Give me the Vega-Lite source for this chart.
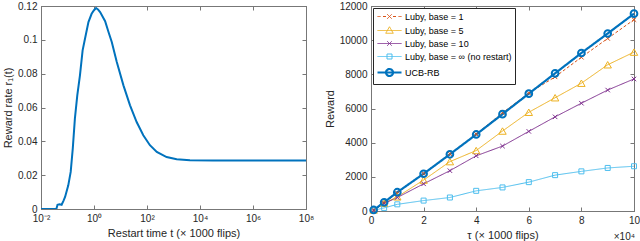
{
  "$schema": "https://vega.github.io/schema/vega-lite/v6.json",
  "padding": {"left": 2, "top": 0, "right": 0, "bottom": 0},
  "bounds": "flush",
  "spacing": 65,
  "config": {
    "view": {"stroke": "#777", "strokeWidth": 1},
    "font": "Liberation Sans",
    "axis": {
      "labelFont": "Liberation Sans", "titleFont": "Liberation Sans",
      "labelFontSize": 10, "titleFontSize": 11,
      "labelColor": "#262626", "titleColor": "#262626", "titleFontWeight": "normal",
      "domainColor": "#777", "tickColor": "#777", "tickSize": -4, "grid": false,
      "labelPadding": 8, "labelFlush": false, "labelOverlap": false
    },
    "legend": {"labelFont": "Liberation Sans", "labelFontSize": 9, "labelColor": "#000"}
  },
  "datasets": {
    "rate": [
      {"t": 0.01, "r": 0}, {"t": 0.025, "r": 0}, {"t": 0.038, "r": 0},
      {"t": 0.042, "r": 0.0025}, {"t": 0.05, "r": 0.0028}, {"t": 0.06, "r": 0.0025},
      {"t": 0.071, "r": 0.005}, {"t": 0.081, "r": 0.0071}, {"t": 0.107, "r": 0.014},
      {"t": 0.132, "r": 0.0219}, {"t": 0.158, "r": 0.0357}, {"t": 0.19, "r": 0.0534},
      {"t": 0.234, "r": 0.0672}, {"t": 0.295, "r": 0.079}, {"t": 0.372, "r": 0.0938},
      {"t": 0.457, "r": 0.1006}, {"t": 0.617, "r": 0.1105}, {"t": 0.813, "r": 0.1154},
      {"t": 1, "r": 0.1175}, {"t": 1.2, "r": 0.1188}, {"t": 1.41, "r": 0.118},
      {"t": 1.7, "r": 0.1164}, {"t": 2.63, "r": 0.111}, {"t": 3.55, "r": 0.1045},
      {"t": 4.68, "r": 0.0987}, {"t": 7.24, "r": 0.0869}, {"t": 12.9, "r": 0.0731},
      {"t": 22.9, "r": 0.0613}, {"t": 40.7, "r": 0.0514}, {"t": 72.4, "r": 0.0436},
      {"t": 129, "r": 0.0377}, {"t": 234, "r": 0.0337}, {"t": 550, "r": 0.0307},
      {"t": 1318, "r": 0.0294}, {"t": 4169, "r": 0.0288}, {"t": 31623, "r": 0.0287},
      {"t": 1000000, "r": 0.0287}, {"t": 100000000, "r": 0.0287}
    ],
    "reward": [
      {"s": "Luby, base = 1", "x": 1000, "y": 60}, {"s": "Luby, base = 1", "x": 5000, "y": 480},
      {"s": "Luby, base = 1", "x": 10000, "y": 1050}, {"s": "Luby, base = 1", "x": 20000, "y": 2200},
      {"s": "Luby, base = 1", "x": 30000, "y": 3350}, {"s": "Luby, base = 1", "x": 40000, "y": 4500},
      {"s": "Luby, base = 1", "x": 50000, "y": 5750}, {"s": "Luby, base = 1", "x": 60000, "y": 6900},
      {"s": "Luby, base = 1", "x": 70000, "y": 7850}, {"s": "Luby, base = 1", "x": 80000, "y": 9000},
      {"s": "Luby, base = 1", "x": 90000, "y": 10100}, {"s": "Luby, base = 1", "x": 100000, "y": 11200},
      {"s": "Luby, base = 5", "x": 1000, "y": 60}, {"s": "Luby, base = 5", "x": 5000, "y": 450},
      {"s": "Luby, base = 5", "x": 10000, "y": 830}, {"s": "Luby, base = 5", "x": 20000, "y": 1810},
      {"s": "Luby, base = 5", "x": 30000, "y": 2890}, {"s": "Luby, base = 5", "x": 40000, "y": 3540},
      {"s": "Luby, base = 5", "x": 50000, "y": 4680}, {"s": "Luby, base = 5", "x": 60000, "y": 5780},
      {"s": "Luby, base = 5", "x": 70000, "y": 6630}, {"s": "Luby, base = 5", "x": 80000, "y": 7480},
      {"s": "Luby, base = 5", "x": 90000, "y": 8560}, {"s": "Luby, base = 5", "x": 100000, "y": 9300},
      {"s": "Luby, base = 10", "x": 1000, "y": 50}, {"s": "Luby, base = 10", "x": 5000, "y": 440},
      {"s": "Luby, base = 10", "x": 10000, "y": 790}, {"s": "Luby, base = 10", "x": 20000, "y": 1590},
      {"s": "Luby, base = 10", "x": 30000, "y": 2360}, {"s": "Luby, base = 10", "x": 40000, "y": 3230},
      {"s": "Luby, base = 10", "x": 50000, "y": 3800}, {"s": "Luby, base = 10", "x": 60000, "y": 4660},
      {"s": "Luby, base = 10", "x": 70000, "y": 5510}, {"s": "Luby, base = 10", "x": 80000, "y": 6310},
      {"s": "Luby, base = 10", "x": 90000, "y": 7080}, {"s": "Luby, base = 10", "x": 100000, "y": 7730},
      {"s": "Luby, base = ∞ (no restart)", "x": 1000, "y": 40}, {"s": "Luby, base = ∞ (no restart)", "x": 5000, "y": 180},
      {"s": "Luby, base = ∞ (no restart)", "x": 10000, "y": 390}, {"s": "Luby, base = ∞ (no restart)", "x": 20000, "y": 610},
      {"s": "Luby, base = ∞ (no restart)", "x": 30000, "y": 790}, {"s": "Luby, base = ∞ (no restart)", "x": 40000, "y": 1180},
      {"s": "Luby, base = ∞ (no restart)", "x": 50000, "y": 1380}, {"s": "Luby, base = ∞ (no restart)", "x": 60000, "y": 1690},
      {"s": "Luby, base = ∞ (no restart)", "x": 70000, "y": 2100}, {"s": "Luby, base = ∞ (no restart)", "x": 80000, "y": 2320},
      {"s": "Luby, base = ∞ (no restart)", "x": 90000, "y": 2520}, {"s": "Luby, base = ∞ (no restart)", "x": 100000, "y": 2620},
      {"s": "UCB-RB", "x": 1000, "y": 60}, {"s": "UCB-RB", "x": 5000, "y": 510},
      {"s": "UCB-RB", "x": 10000, "y": 1100}, {"s": "UCB-RB", "x": 20000, "y": 2180},
      {"s": "UCB-RB", "x": 30000, "y": 3320}, {"s": "UCB-RB", "x": 40000, "y": 4480},
      {"s": "UCB-RB", "x": 50000, "y": 5670}, {"s": "UCB-RB", "x": 60000, "y": 6870},
      {"s": "UCB-RB", "x": 70000, "y": 8060}, {"s": "UCB-RB", "x": 80000, "y": 9250},
      {"s": "UCB-RB", "x": 90000, "y": 10390}, {"s": "UCB-RB", "x": 100000, "y": 11550}
    ],
    "note": [{"x": 100000, "y": 0, "t": "×10⁴"}]
  },
  "hconcat": [
    {
      "width": 265, "height": 203,
      "data": {"name": "rate"},
      "layer": [
        {
          "mark": {"type": "line", "color": "#0072BD", "strokeWidth": 2, "clip": true},
          "encoding": {
            "x": {"field": "t", "type": "quantitative",
              "scale": {"type": "log", "domain": [0.01, 100000000], "nice": false},
              "axis": {"values": [0.01, 1, 100, 10000, 1000000, 100000000],
                "labelExpr": "{'0.01':'10⁻²','1':'10⁰','100':'10²','10000':'10⁴','1000000':'10⁶','100000000':'10⁸'}[''+datum.value]",
                "title": "Restart time t (× 1000 flips)", "titlePadding": 4}},
            "y": {"field": "r", "type": "quantitative",
              "scale": {"domain": [0, 0.12], "nice": false},
              "axis": {"values": [0, 0.02, 0.04, 0.06, 0.08, 0.1, 0.12], "format": ".2~f",
                "title": "Reward rate r₁(t)", "titlePadding": 4}}
          }
        },
        {
          "mark": {"type": "line", "opacity": 0},
          "encoding": {
            "x": {"field": "t", "type": "quantitative",
              "axis": {"orient": "top", "values": [0.01, 1, 100, 10000, 1000000, 100000000], "labels": false, "title": null}},
            "y": {"field": "r", "type": "quantitative",
              "axis": {"orient": "right", "values": [0, 0.02, 0.04, 0.06, 0.08, 0.1, 0.12], "labels": false, "title": null}}
          }
        }
      ],
      "resolve": {"axis": {"x": "independent", "y": "independent"}}
    },
    {
      "width": 263, "height": 205,
      "layer": [
        {
          "data": {"name": "reward"},
          "mark": {"type": "line"},
          "encoding": {
            "x": {"field": "x", "type": "quantitative",
              "scale": {"domain": [0, 100000], "nice": false},
              "axis": {"values": [0, 20000, 40000, 60000, 80000, 100000], "labelExpr": "datum.value/10000",
                "title": "τ (× 1000 flips)", "titlePadding": 4}},
            "y": {"field": "y", "type": "quantitative",
              "scale": {"domain": [0, 12000], "nice": false},
              "axis": {"values": [0, 2000, 4000, 6000, 8000, 10000, 12000], "format": "d",
                "title": "Reward", "titlePadding": 4}},
            "color": {"field": "s", "type": "nominal",
              "scale": {"domain": ["Luby, base = 1", "Luby, base = 5", "Luby, base = 10", "Luby, base = ∞ (no restart)", "UCB-RB"],
                "range": ["#D95319", "#EDB120", "#7E2F8E", "#4DBEEE", "#0072BD"]},
              "legend": {"title": null, "orient": "none", "legendX": 2, "legendY": 2, "padding": 3,
                "strokeColor": "#262626", "fillColor": "#ffffff", "symbolSize": 100,
                "symbolOffset": 7, "labelOffset": 9, "rowPadding": 2,
                "encode": {"symbols": {"update": {
                  "fill": {"value": "transparent"},
                  "strokeDash": {"value": [1, 0]},
                  "shape": {"signal": "datum.value === 'UCB-RB' ? 'M-2.4,0H2.4M-0.7,0A0.7,0.7 0 1,0 0.7,0A0.7,0.7 0 1,0 -0.7,0' : datum.value === 'Luby, base = 1' ? 'M-2.4,0H-1.8M-1.3,0H-0.7M0.7,0H1.3M1.8,0H2.4M-0.45,-0.45L0.45,0.45M-0.45,0.45L0.45,-0.45' : datum.value === 'Luby, base = 5' ? 'M-2.4,0H2.4M0,-0.75L0.75,0.55L-0.75,0.55Z' : datum.value === 'Luby, base = 10' ? 'M-2.4,0H2.4M-0.45,-0.45L0.45,0.45M-0.45,0.45L0.45,-0.45' : 'M-2.4,0H2.4M-0.5,-0.5H0.5V0.5H-0.5Z'"},
                  "strokeWidth": {"signal": "datum.value === 'UCB-RB' ? 2 : 1"}
                }}}}
            },
            "strokeDash": {"field": "s", "type": "nominal",
              "scale": {"domain": ["Luby, base = 1", "Luby, base = 5", "Luby, base = 10", "Luby, base = ∞ (no restart)", "UCB-RB"],
                "range": [[3, 2], [1, 0], [1, 0], [1, 0], [1, 0]]}, "legend": null},
            "strokeWidth": {"field": "s", "type": "ordinal",
              "scale": {"type": "ordinal", "domain": ["Luby, base = 1", "Luby, base = 5", "Luby, base = 10", "Luby, base = ∞ (no restart)", "UCB-RB"],
                "range": [1, 1, 1, 1, 2.2]}, "legend": null}
          }
        },
        {
          "data": {"name": "reward"},
          "mark": {"type": "point", "filled": false, "opacity": 1},
          "encoding": {
            "x": {"field": "x", "type": "quantitative", "axis": null},
            "y": {"field": "y", "type": "quantitative", "axis": null},
            "color": {"field": "s", "type": "nominal",
              "scale": {"domain": ["Luby, base = 1", "Luby, base = 5", "Luby, base = 10", "Luby, base = ∞ (no restart)", "UCB-RB"],
                "range": ["#D95319", "#EDB120", "#7E2F8E", "#4DBEEE", "#0072BD"]}, "legend": null},
            "shape": {"field": "s", "type": "nominal",
              "scale": {"domain": ["Luby, base = 1", "Luby, base = 5", "Luby, base = 10", "Luby, base = ∞ (no restart)", "UCB-RB"],
                "range": ["M-1,-1L1,1M-1,1L1,-1", "triangle-up", "M-1,-1L1,1M-1,1L1,-1", "square", "circle"]}, "legend": null},
            "size": {"field": "s", "type": "ordinal",
              "scale": {"type": "ordinal", "domain": ["Luby, base = 1", "Luby, base = 5", "Luby, base = 10", "Luby, base = ∞ (no restart)", "UCB-RB"],
                "range": [20, 55, 20, 25, 45]}, "legend": null},
            "strokeWidth": {"field": "s", "type": "ordinal",
              "scale": {"type": "ordinal", "domain": ["Luby, base = 1", "Luby, base = 5", "Luby, base = 10", "Luby, base = ∞ (no restart)", "UCB-RB"],
                "range": [1, 1, 1, 1, 2]}, "legend": null}
          }
        },
        {
          "data": {"name": "note"},
          "mark": {"type": "text", "align": "right", "baseline": "middle", "dy": 26, "dx": 1, "fontSize": 10, "color": "#262626", "font": "Liberation Sans"},
          "encoding": {
            "x": {"field": "x", "type": "quantitative", "axis": null},
            "y": {"field": "y", "type": "quantitative", "axis": null},
            "text": {"field": "t"}
          }
        },
        {
          "data": {"name": "reward"},
          "mark": {"type": "line", "opacity": 0},
          "encoding": {
            "x": {"field": "x", "type": "quantitative",
              "axis": {"orient": "top", "values": [0, 20000, 40000, 60000, 80000, 100000], "labels": false, "title": null}},
            "y": {"field": "y", "type": "quantitative",
              "axis": {"orient": "right", "values": [0, 2000, 4000, 6000, 8000, 10000, 12000], "labels": false, "title": null}},
            "detail": {"field": "s"}
          }
        }
      ],
      "resolve": {"axis": {"x": "independent", "y": "independent"}, "scale": {"color": "independent", "shape": "independent", "size": "independent", "strokeWidth": "independent"}}
    }
  ]
}
